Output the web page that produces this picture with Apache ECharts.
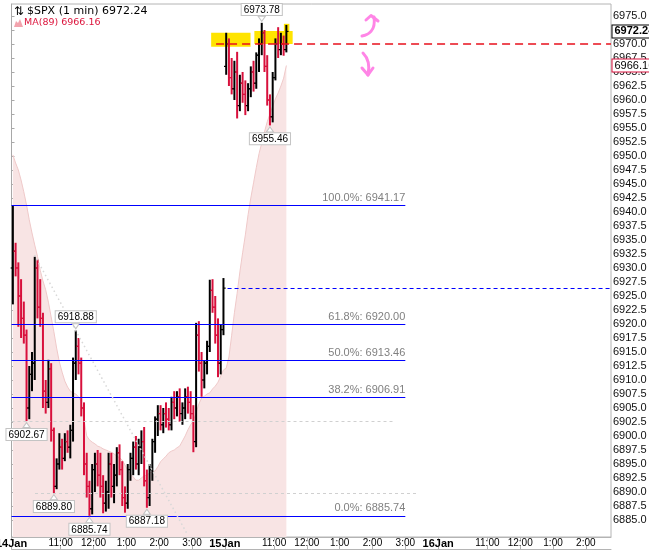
<!DOCTYPE html>
<html><head><meta charset="utf-8">
<script src="https://cdn.jsdelivr.net/npm/echarts@6/dist/echarts.min.js"></script>
<style>html,body{margin:0;padding:0;background:#fff}#c{width:649px;height:551px}</style>
</head><body><div id="c"></div>
<script>
// ---------- data (5-minute OHLC) ----------
const open14  = [6930,6933,6930,6925,6921,6918,6905,6911,6913,6930, 6923,6921,6908,6906,6912,6901,6891,6895,6898,6896, 6899,6898,6901,6913,6916,6913,6905,6895,6891,6887, 6894,6895,6893,6891,6888,6890,6895,6891,6893,6897, 6894,6889,6888,6894,6896,6898,6895,6898,6899,6892, 6889,6894,6899,6903,6904,6902,6904,6903,6902,6906, 6905,6907,6904,6905,6907,6906,6904,6899,6918,6913, 6910,6913,6916,6926,6923,6918,6913,6919];
const high14  = [6941.17,6934.5,6931,6928,6924,6919,6912.5,6915,6932,6931.5, 6928,6922,6910,6913.6,6913,6901.5,6896,6900.5,6899.5,6900.5, 6901,6902,6914,6918.88,6917.5,6914,6906,6897,6892,6895, 6897,6897.5,6897,6893,6892,6897,6897,6895,6898,6898.5, 6895.5,6891,6895,6897,6899,6900,6899.5,6901,6901.6,6894, 6895,6899.5,6903.5,6905.5,6905.5,6905,6906,6905,6907,6908, 6908,6908.5,6906,6908.5,6908.8,6908,6905.5,6920.2,6920.5,6915, 6913.5,6917,6927.9,6928,6925,6921,6920,6928.2];
const low14   = [6923.5,6928.5,6919.5,6917.5,6916.5,6902.67,6903,6908,6910,6921, 6919.5,6905,6904,6905,6899,6889.8,6890.5,6894,6894,6895.5, 6897,6896,6899,6910,6911,6903.5,6893,6889,6885.74,6886, 6890,6891,6889,6886.2,6886.5,6887,6889,6888,6891,6893, 6887.5,6886.3,6887,6892,6893,6894,6893,6895,6891,6887.18, 6887.5,6892,6897,6900,6901,6900.5,6901.5,6901,6901,6903, 6903.5,6902.5,6902,6903,6904,6903,6897.1,6898,6911.5,6907, 6908.5,6911,6915,6922,6916.5,6910.5,6911,6918];
const close14 = [6933,6930,6925,6921,6918,6905,6911,6913,6930,6923, 6921,6908,6906,6912,6901,6891,6895,6898,6896,6899, 6898,6901,6913,6916,6913,6905,6895,6891,6887,6894, 6895,6893,6891,6888,6890,6895,6891,6893,6897,6894, 6889,6888,6894,6896,6898,6895,6898,6899,6892,6889, 6894,6899,6903,6904,6902,6904,6903,6902,6906,6905, 6907,6904,6905,6907,6906,6904,6899,6918,6913,6910, 6913,6916,6926,6923,6918,6913,6919,6926.4];
const ma14    = [6950.2,6948.75,6947.5,6945.7,6943.6,6941.25,6938.6,6936.25,6934.1,6932.1, 6929.6,6927.7,6926.1,6923.9,6921.25,6918.6,6915.7,6913.2,6911.4,6909.8, 6908.75,6908.0,6907.7,6907.5,6907.0,6906.1,6902.9,6900.0,6899.3,6898.9, 6898.6,6898.2,6898.0,6897.7,6897.5,6897.3,6897.1,6896.8,6896.4,6896.1, 6895.7,6894.8,6893.9,6893.2,6892.7,6892.1,6892.1,6892.5,6892.9,6893.0, 6893.4,6893.6,6893.75,6894.5,6895.4,6895.9,6896.4,6897.0,6897.3,6897.5, 6897.9,6898.2,6899.1,6900.0,6901.1,6902.0,6902.7,6904.1,6905.7,6906.8, 6907.1,6907.5,6907.7,6908.4,6908.9,6909.6,6910.7,6911.8];

const open15  = [6966,6970,6964,6962,6965,6959,6963,6961,6959,6962, 6965,6963,6968,6970,6972,6966,6960,6957,6964,6970, 6969,6970,6969];
const high15  = [6972,6971,6967.5,6967,6968.6,6964.5,6965,6963.5,6963,6966, 6967,6968.5,6971,6973.78,6972.5,6968,6961,6965,6971,6973, 6972,6971.5,6973.4];
const low15   = [6964.5,6962.5,6961,6960,6956.7,6958,6959.5,6957.3,6958,6960.5, 6961.5,6962,6965,6968,6965,6959,6955.46,6956,6963.5,6967.5, 6968,6967.9,6968.5];
const close15 = [6970,6964,6962,6965,6959,6963,6961,6959,6962,6965, 6963,6968,6970,6972,6966,6960,6957,6964,6970,6969, 6970,6969,6972.24];
const ma15    = [6912.1,6914.1,6918.0,6922.0,6925.5,6929.3,6932.7,6935.9,6939.5,6942.5, 6945.2,6947.9,6950.4,6952.3,6954.3,6956.1,6957.5,6958.9,6960.2,6961.25, 6962.5,6963.9,6966.16];

// Fibonacci retracement levels
const fibNames  = ['100.0%','61.8%','50.0%','38.2%','0.0%'];
const fibValues = [6941.17, 6920.00, 6913.46, 6906.91, 6885.74];
const fibStartMinute = 0, fibEndMinute = 720;          // 14Jan 9:30 -> 15Jan 3:00
// other drawn levels
const closeLine14 = 6926.4;                             // 14Jan close (blue dashed)
const redLevel = 6970.0;                                // hand-drawn red dashed level
const supportLevels = [[0, 700, 6902.67], [43, 740, 6889.80]];   // [startMin, endMin, price]
const trendLine = [[42, 6932.3], [320, 6882.7]];                // dotted gray trend line
const highlightZones = [[365, 6972.0, 437, 6969.5], [444, 6972.3, 514, 6970.0], [498, 6973.6, 508, 6972.1]];
// annotated swing points [day, barIndex]
const markedHighs = [[0, 23], [1, 13]];
const markedLows  = [[0, 5], [0, 15], [0, 28], [0, 49], [1, 16]];

// axis ticks
const xTickMinutes = [0,90,150,210,270,330,390,480,540,600,660,720,780,870,930,990,1050];
const xTickLabels  = ['14Jan','11:00','12:00','1:00','2:00','3:00','15Jan','11:00','12:00','1:00','2:00','3:00','16Jan','11:00','12:00','1:00','2:00'];
const yTickValues = [];
for (let v = 6885; v <= 6975; v += 2.5) yTickValues.push(v);

// ---------- build ----------
const days = [
  {o: open14, h: high14, l: low14, c: close14, ma: ma14},
  {o: open15, h: high15, l: low15, c: close15, ma: ma15}
];
const SESSION = 390, BAR = 5;
const barMinute = (d, k) => d * SESSION + k * BAR + BAR / 2;
const ohlc = [], maData = [];
days.forEach((d, di) => {
  d.o.forEach((o, k) => {
    ohlc.push([barMinute(di, k), o, d.h[k], d.l[k], d.c[k]]);
    maData.push([barMinute(di, k), d.ma[k]]);
  });
});
const lastClose = close15[close15.length - 1];
const lastMA = ma15[ma15.length - 1];
const X_MAX = 1096, Y_MIN = 6881.96, Y_MAX = 6977.14;

const chart = echarts.init(document.getElementById('c'), null, {renderer: 'canvas'});
const RED = '#d8103c', BLUE = '#0000ff';
const FONT = 'Liberation Sans';

const boxLabel = {
  show: true, color: '#000', fontSize: 10, fontFamily: FONT,
  backgroundColor: '#fff', borderColor: '#c4c4c4', borderWidth: 1,
  padding: [1, 2, 0, 2], distance: 1, formatter: p => p.value.toFixed(2)
};
const pointData = [];
markedHighs.forEach(([d, k]) => {
  const v = days[d].h[k];
  pointData.push({coord: [barMinute(d, k), v], value: v, symbolRotate: 180, symbolOffset: [0, -4],
    label: Object.assign({}, boxLabel, {position: 'top'})});
});
markedLows.forEach(([d, k]) => {
  const v = days[d].l[k];
  pointData.push({coord: [barMinute(d, k), v], value: v, symbolOffset: [0, 4],
    label: Object.assign({}, boxLabel, {position: 'bottom'})});
});
const tagData = [
  {coord: [X_MAX, lastClose], value: lastClose, label: {show: true, position: 'right', distance: 1,
    formatter: p => p.value.toFixed(2), color: '#000', fontWeight: 'bold', fontSize: 11, fontFamily: FONT,
    backgroundColor: '#fff', borderColor: '#000', borderWidth: 1, padding: [1, 2, 0, 2]}},
  {coord: [X_MAX, lastMA], value: lastMA, label: {show: true, position: 'right', distance: 1,
    formatter: p => p.value.toFixed(2), color: '#000', fontSize: 11, fontFamily: FONT,
    backgroundColor: '#fff', borderColor: RED, borderWidth: 1, padding: [1, 2, 0, 2]}}
];
const PINK = '#ff85e6';
const arrowStyle = {stroke: PINK, lineWidth: 3, fill: null, lineCap: 'round', lineJoin: 'round'};

function levelSeries(name, z, lineStyle, data, label) {
  return {
    name: name, type: 'line', data: [], z: z, color: lineStyle.color,
    markLine: {silent: true, symbol: ['none', 'none'], lineStyle: lineStyle,
      label: label || {show: false}, data: data}
  };
}

const option = {
  animation: false,
  grid: {left: 11.5, right: 38, top: 4, bottom: 14, show: true, borderColor: '#b4b4b4', borderWidth: 1,
    backgroundColor: 'transparent', containLabel: false, outerBoundsMode: 'none'},
  xAxis: [{
    type: 'value', min: 0, max: X_MAX, splitLine: {show: false},
    axisLine: {show: true, lineStyle: {color: '#b4b4b4'}},
    axisTick: {show: true, length: 3, lineStyle: {color: '#b4b4b4'}, customValues: xTickMinutes},
    axisLabel: {
      customValues: xTickMinutes, margin: 1, color: '#000', fontSize: 10, fontFamily: FONT,
      showMinLabel: true, showMaxLabel: true, hideOverlap: false,
      formatter: v => {
        const i = xTickMinutes.indexOf(v);
        const t = i >= 0 ? xTickLabels[i] : '';
        return /Jan/.test(t) ? '{d|' + t + '}' : t;
      },
      rich: {d: {fontWeight: 'bold', fontSize: 11, fontFamily: FONT, color: '#000'}}
    }
  }, {
    type: 'value', min: 0, max: X_MAX, position: 'bottom', offset: 12,
    axisLine: {show: true, lineStyle: {color: '#b4b4b4'}},
    axisTick: {show: true, inside: true, length: 3, lineStyle: {color: '#b4b4b4'}, customValues: xTickMinutes},
    axisLabel: {show: false}, splitLine: {show: false}
  }],
  yAxis: {
    type: 'value', position: 'right', min: Y_MIN, max: Y_MAX, scale: true,
    splitLine: {show: false},
    axisLine: {show: true, lineStyle: {color: '#a8a8a8'}},
    axisTick: {show: true, length: 3, lineStyle: {color: '#a8a8a8'}, customValues: yTickValues},
    axisLabel: {customValues: yTickValues, margin: 2, color: '#111', fontSize: 11, fontFamily: FONT,
      formatter: v => v.toFixed(1), showMinLabel: true, showMaxLabel: true}
  },
  graphic: [
    {type: 'text', x: 14, y: 6, z: 10, style: {text: '\u21C5', fontSize: 12, fontFamily: 'DejaVu Sans', fill: '#000'}},
    {type: 'text', x: 27, y: 6, z: 10, style: {text: '$SPX (1 min) ' + lastClose.toFixed(2), fontSize: 11, fontFamily: 'DejaVu Sans', fill: '#000'}},
    {type: 'polygon', z: 10, shape: {points: [[14, 27], [16, 21], [18, 23], [20, 19], [23, 27]]}, style: {fill: '#f2a3ad'}},
    {type: 'text', x: 24, y: 18, z: 10, style: {text: 'MA(89) ' + lastMA.toFixed(2), fontSize: 9.5, fontFamily: 'DejaVu Sans', fill: '#dc143c'}},
    // hand-drawn pink arrows
    {type: 'bezierCurve', z: 10, shape: {x1: 362, y1: 36, cpx1: 368, cpy1: 35, cpx2: 376, cpy2: 31, x2: 374, y2: 17}, style: arrowStyle},
    {type: 'polyline', z: 10, shape: {points: [[366, 20], [371, 15.5], [378, 21]]}, style: arrowStyle},
    {type: 'bezierCurve', z: 10, shape: {x1: 363, y1: 53, cpx1: 368, cpy1: 58, cpx2: 370, cpy2: 66, x2: 368, y2: 75}, style: arrowStyle},
    {type: 'polyline', z: 10, shape: {points: [[362, 68], [368, 75], [373, 68]]}, style: arrowStyle}
  ],
  series: [
    {
      name: 'MA(89)', type: 'line', data: maData, z: 1, showSymbol: false, symbol: 'none', silent: true,
      lineStyle: {color: '#efc9c9', width: 1}, areaStyle: {color: '#f8e4e4', opacity: 1, origin: 'start'},
      markArea: {silent: true, itemStyle: {color: '#ffe400'},
        data: highlightZones.map(z => [{coord: [z[0], z[1]]}, {coord: [z[2], z[3]]}])}
    },
    levelSeries('fib', 2, {color: BLUE, width: 1, type: 'solid'},
      fibValues.map((v, i) => [{name: fibNames[i] + ': ' + v.toFixed(2), coord: [fibStartMinute, v]}, {coord: [fibEndMinute, v]}]),
      {show: true, position: 'insideEndTop', distance: [0, 2], color: '#808080', fontSize: 11, fontFamily: FONT, formatter: p => p.name}),
    levelSeries('support', 2, {color: '#d0d0d0', width: 1, type: [3, 3]},
      supportLevels.map(s => [{coord: [s[0], s[2]]}, {coord: [s[1], s[2]]}])),
    levelSeries('trend', 2, {color: '#d8d8d8', width: 1.5, type: [1.5, 3]},
      [[{coord: trendLine[0]}, {coord: trendLine[1]}]]),
    levelSeries('close14', 2, {color: BLUE, width: 1, type: [4, 3]},
      [[{coord: [395, closeLine14]}, {coord: [X_MAX, closeLine14]}]]),
    {
      name: '$SPX', type: 'custom', z: 3, data: ohlc, encode: {x: 0, y: [1, 2, 3, 4]},
      renderItem: function (params, api) {
        const x = api.value(0), o = api.value(1), h = api.value(2), l = api.value(3), c = api.value(4);
        const pH = api.coord([x, h]), pL = api.coord([x, l]), pO = api.coord([x, o]), pC = api.coord([x, c]);
        const col = c >= o ? '#000' : RED;
        const w = 2.2;
        return {type: 'group', children: [
          {type: 'line', shape: {x1: pH[0], y1: pH[1], x2: pL[0], y2: pL[1]}, style: {stroke: col, lineWidth: 2}},
          {type: 'line', shape: {x1: pO[0] - w, y1: pO[1], x2: pO[0], y2: pO[1]}, style: {stroke: col, lineWidth: 1.2}},
          {type: 'line', shape: {x1: pC[0], y1: pC[1], x2: pC[0] + w, y2: pC[1]}, style: {stroke: col, lineWidth: 1.2}}
        ]};
      }
    },
    levelSeries('red', 5, {color: '#e8101c', width: 1.5, type: [8, 5]},
      [[{coord: [374, redLevel]}, {coord: [X_MAX, redLevel]}]]),
    {
      name: 'notes', type: 'line', data: [], z: 5,
      markPoint: {
        silent: true, symbol: 'triangle', symbolSize: [7, 5],
        itemStyle: {color: '#fff', borderColor: '#c4c4c4', borderWidth: 1},
        data: pointData
      }
    },
    {
      name: 'tags', type: 'line', data: [], z: 6,
      markPoint: {silent: true, symbol: 'rect', symbolSize: 1, itemStyle: {color: 'rgba(0,0,0,0)'}, data: tagData}
    }
  ]
};
chart.setOption(option);
</script>
</body></html>
